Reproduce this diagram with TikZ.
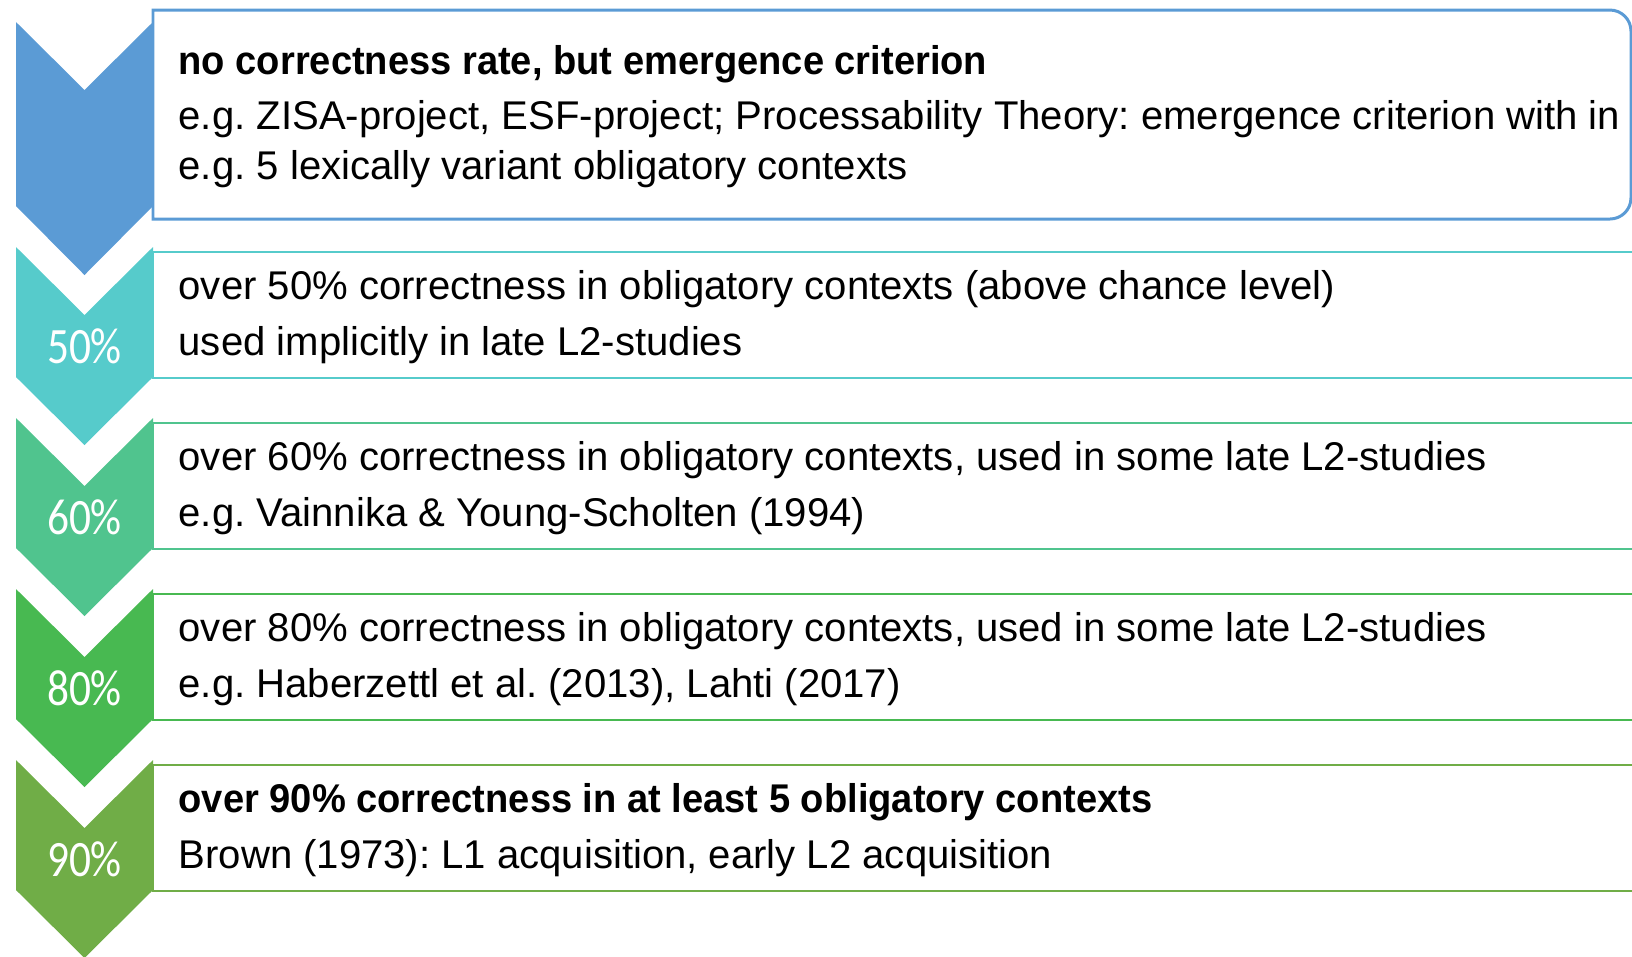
\documentclass[tikz,border=0pt]{standalone}
\usepackage{fontspec}
\setmainfont{Liberation Sans}[BoldFeatures={FakeStretch=0.95}]
\newfontfamily\pctfont[FakeStretch=0.85]{Carlito}
\frenchspacing

\definecolor{lvlnone}{HTML}{5B9BD5}
\definecolor{lvlfifty}{HTML}{56CBCB}
\definecolor{lvlsixty}{HTML}{50C48E}
\definecolor{lvleighty}{HTML}{48B951}
\definecolor{lvlninety}{HTML}{70AD47}

\begin{document}
\begin{tikzpicture}[x=0.01cm, y=-0.01cm,
  frame/.style={line width=0.7pt},
  line/.style={anchor=base west, inner sep=0pt, font=\fontsize{11.4pt}{13pt}\selectfont},
  pct/.style={text=white, inner sep=0pt, font=\pctfont\fontsize{14.5pt}{16pt}\selectfont}]
\useasboundingbox (0,0) rectangle (1632,956);

% Chevrons
\fill[lvlnone]   (16,22)  -- (84.5,90)  -- (153,22)  -- (153,206) -- (84.5,275) -- (16,206) -- cycle;
\fill[lvlfifty]  (16,247) -- (84.5,315) -- (153,247) -- (153,377) -- (84.5,445) -- (16,377) -- cycle;
\fill[lvlsixty]  (16,418) -- (84.5,486) -- (153,418) -- (153,548) -- (84.5,616) -- (16,548) -- cycle;
\fill[lvleighty] (16,589) -- (84.5,657) -- (153,589) -- (153,719) -- (84.5,787) -- (16,719) -- cycle;
\fill[lvlninety] (16,760) -- (84.5,828) -- (153,760) -- (153,890) -- (84.5,958) -- (16,890) -- cycle;

% Boxes
\draw[frame, lvlnone, line width=0.85pt] (153,10) -- (1000,10) [rounded corners=6pt] -- (1631,10) -- (1631,219)
  -- (1000,219) [sharp corners] -- (153,219) -- cycle;
\draw[frame, lvlfifty]  (1650,252) -- (153,252) -- (153,378) -- (1650,378);
\draw[frame, lvlsixty]  (1650,423) -- (153,423) -- (153,549) -- (1650,549);
\draw[frame, lvleighty] (1650,594) -- (153,594) -- (153,720) -- (1650,720);
\draw[frame, lvlninety] (1650,765) -- (153,765) -- (153,891) -- (1650,891);

% Levels
\node[pct] (pct-50) at (84.5,346) {50\%};
\node[pct] (pct-60) at (84.5,517) {60\%};
\node[pct] (pct-80) at (84.5,688) {80\%};
\node[pct] (pct-90) at (84.5,859) {90\%};

% Texts
\node[line] (none-a) at (178,74)  {\textbf{no correctness rate, but emergence criterion}};
\node[line] (none-b) at (178,129) {e.g. ZISA-project, ESF-project; Processability Theory: emergence criterion with in};
\node[line] (none-c) at (178,179) {e.g. 5 lexically variant obligatory contexts};

\node[line] (fifty-a) at (178,299) {over 50\% correctness in obligatory contexts (above chance level)};
\node[line] (fifty-b) at (178,355) {used implicitly in late L2-studies};

\node[line] (sixty-a) at (178,470) {over 60\% correctness in obligatory contexts, used in some late L2-studies};
\node[line] (sixty-b) at (178,526) {e.g. Vainnika \& Young-Scholten (1994)};

\node[line] (eighty-a) at (178,641) {over 80\% correctness in obligatory contexts, used in some late L2-studies};
\node[line] (eighty-b) at (178,697) {e.g. Haberzettl et al. (2013), Lahti (2017)};

\node[line] (ninety-a) at (178,812) {\textbf{over 90\% correctness in at least 5 obligatory contexts}};
\node[line] (ninety-b) at (178,868) {Brown (1973): L1 acquisition, early L2 acquisition};

\end{tikzpicture}
\end{document}
